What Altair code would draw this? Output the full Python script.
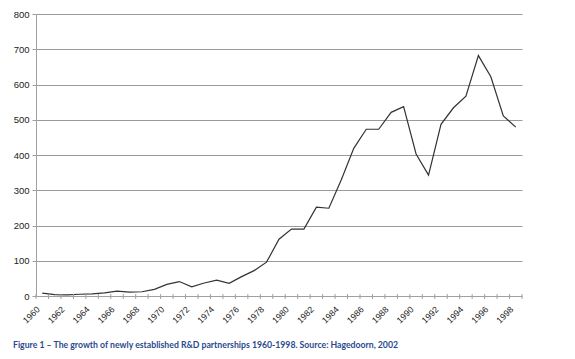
import altair as alt
import pandas as pd

years = list(range(1960, 1999))
partnerships = [8, 4, 3, 5, 6, 9, 14, 11, 12, 19,
                33, 41, 26, 37, 45, 36, 55, 72, 96, 161,
                190, 190, 252, 249, 330, 419, 473, 473, 521, 537,
                403, 343, 487, 534, 567, 682, 622, 511, 479]
label_years = list(range(1960, 1999, 2))
y_ticks = list(range(0, 801, 100))
caption = "Figure 1 \u2013 The growth of newly established R&D partnerships 1960-1998. Source: Hagedoorn, 2002"

df = pd.DataFrame({"year": years, "value": partnerships})
labels_df = pd.DataFrame({"year": label_years})

W, H = 486, 282

xscale = alt.Scale(domain=[years[0] - 0.5, years[-1] + 0.5], nice=False, zero=False)
yscale = alt.Scale(domain=[0, 800], nice=False)

line = alt.Chart(df).mark_line(color="#333333", strokeWidth=1.2).encode(
    x=alt.X("year:Q", scale=xscale,
            axis=alt.Axis(labels=False, ticks=False, grid=False, domain=True,
                          domainColor="#a0a0a0", title=None)),
    y=alt.Y("value:Q", scale=yscale,
            axis=alt.Axis(values=y_ticks, grid=True, gridColor="#9a9a9a",
                          gridWidth=1, domainColor="#a0a0a0", tickColor="#a0a0a0",
                          tickSize=4, labelFont="Liberation Sans", labelFontSize=9.5,
                          labelColor="#222222", labelPadding=3, title=None)),
)

xlabels = alt.Chart(labels_df).mark_text(
    angle=315, align="right", baseline="middle", font="Liberation Sans",
    fontSize=8.8, color="#222222", xOffset=-4,
).encode(
    x=alt.X("year:Q", scale=xscale),
    y=alt.value(H + 12),
    text=alt.Text("year:Q", format="d"),
)

ticks = alt.Chart(df).transform_calculate(
    edge="datum.year - 0.5"
).mark_rule(color="#a0a0a0", strokeWidth=1).encode(
    x=alt.X("edge:Q", scale=xscale),
    y=alt.value(H - 2),
    y2=alt.value(H + 3),
)

last_tick = alt.Chart(df).transform_aggregate(
    maxyear="max(year)"
).transform_calculate(
    edge="datum.maxyear + 0.5"
).mark_rule(color="#a0a0a0", strokeWidth=1).encode(
    x=alt.X("edge:Q", scale=xscale),
    y=alt.value(H - 2),
    y2=alt.value(H + 3),
)

chart = alt.layer(line, ticks, last_tick, xlabels).properties(
    width=W,
    height=H,
    autosize=alt.AutoSizeParams(type="none"),
    padding={"left": 28, "top": 6, "right": 45, "bottom": 55},
    title=alt.TitleParams(caption, orient="bottom", anchor="start", frame="group",
                          dx=-23, offset=16, font="Lato", fontSize=8.7,
                          fontWeight="bold", color="#2a4a8e"),
).configure_view(stroke=None)

chart.save("out.html", embed_options={"renderer": "svg", "actions": False})
